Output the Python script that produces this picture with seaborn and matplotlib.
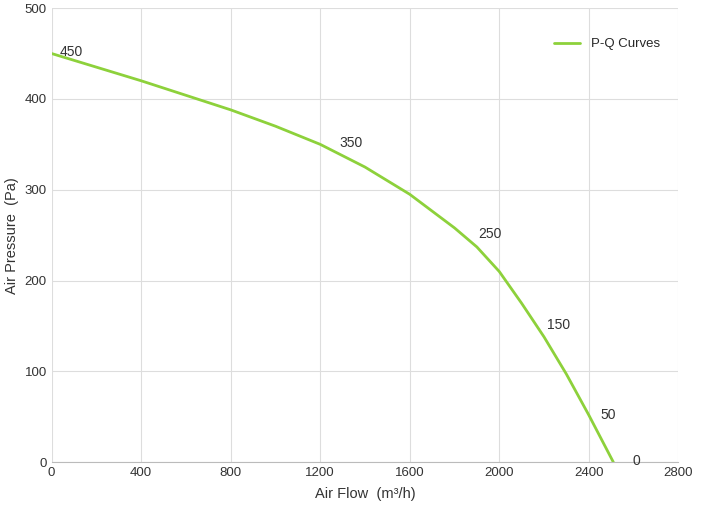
import seaborn as sns
import pandas as pd
import matplotlib.pyplot as plt

# curve readings (m3/h, Pa)
flow = [0, 200, 400, 600, 800, 1000, 1200, 1400, 1600, 1800, 1900, 2000, 2100, 2200, 2300, 2400, 2510]
pressure = [450, 435, 420, 404, 388, 370, 350, 325, 295, 258, 237, 210, 175, 138, 97, 52, 0]

# labelled points
lab_x = [0, 1250, 1870, 2180, 2400, 2510]
lab_y = [450, 350, 250, 150, 50, 0]
lab_txt = ['450', '350', '250', '150', '50', '0']

df = pd.DataFrame({'flow': flow, 'pressure': pressure})

sns.set_style('whitegrid', {'grid.color': '#dddddd'})
plt.rcParams['font.family'] = ['Liberation Sans', 'DejaVu Sans']

fig, ax = plt.subplots(figsize=(7.08, 5.09), dpi=100)
fig.subplots_adjust(left=0.073, right=0.958, top=0.984, bottom=0.092)

sns.lineplot(data=df, x='flow', y='pressure', ax=ax, color='#8dd13b', linewidth=2, label='P-Q Curves')

for x, y, t in zip(lab_x, lab_y, lab_txt):
    ax.annotate(t, (x, y), xytext=(14, 1), textcoords='offset points', fontsize=10, color='#333333',
                va='center', ha='center' if t != '0' else 'left')

ax.set_xlim(0, 2800)
ax.set_ylim(0, 500)
ax.set_xticks(range(0, 2801, 400))
ax.set_yticks(range(0, 501, 100))
ax.tick_params(labelsize=9.5, colors='#333333', length=0)
ax.set_xlabel('Air Flow  (m³/h)', fontsize=10.5, color='#333333', labelpad=6)
ax.set_ylabel('Air Pressure  (Pa)', fontsize=10.5, color='#333333')
for s in ax.spines.values():
    s.set_visible(False)
ax.spines['bottom'].set_visible(True)
ax.spines['bottom'].set_color('#bbbbbb')

leg = ax.legend(loc='upper right', frameon=False, fontsize=9.5, bbox_to_anchor=(0.99, 0.96))

plt.savefig('out.png', dpi=100)
